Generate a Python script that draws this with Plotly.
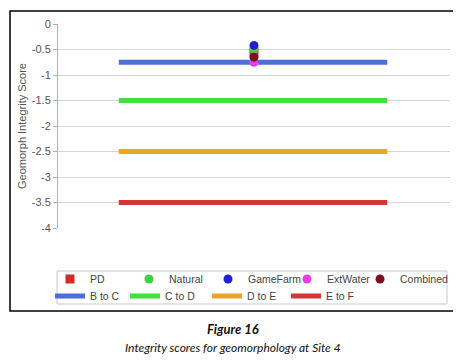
import plotly.graph_objects as go

# ---- data ----
point_names = ["PD", "Natural", "GameFarm", "ExtWater", "Combined"]
point_values = [-0.55, -0.50, -0.42, -0.75, -0.65]
point_x = 5.0
point_colors = ["#d42a2a", "#3ed13e", "#1f1fd6", "#e83ee8", "#7a1020"]
point_symbols = ["square", "circle", "circle", "circle", "circle"]

class_names = ["B to C", "C to D", "D to E", "E to F"]
class_values = [-0.75, -1.5, -2.5, -3.5]
class_x = [1.55, 8.4]
class_colors = ["#4a6fd8", "#3fe03f", "#eaa52a", "#d43535"]

y_ticks = [0, -0.5, -1, -1.5, -2, -2.5, -3, -3.5, -4]
y_tick_labels = ["0", "-0.5", "-1", "-1.5", "-2", "-2.5", "-3", "-3.5", "-4"]

# ---- layout geometry (screen pixels; page body has an 8px offset) ----
W, H = 461, 361
OFF = 8
L, R, T, B = 58, 450, 24, 228
pw, ph = R - L, B - T


def px(x):
    return (x - L) / pw


def py(y):
    return (B - y) / ph


# legend entry text positions (screen px)
row1_text_x = [90, 169, 248, 327, 400]
row2_text_x = [90, 165, 247, 326]
row1_y, row2_y = 279, 296

fig = go.Figure()
legends = {}

for i, (name, val, col) in enumerate(zip(class_names, class_values, class_colors)):
    lg = "legend%d" % (6 + i)
    legends[lg] = (row2_text_x[i], row2_y)
    fig.add_trace(go.Scatter(
        x=class_x, y=[val, val], mode="lines", name=name, legend=lg,
        line=dict(color=col, width=5), hoverinfo="skip"))

for i, (name, val, col, sym) in enumerate(zip(point_names, point_values, point_colors, point_symbols)):
    lg = "legend" if i == 0 else "legend%d" % (1 + i)
    legends[lg] = (row1_text_x[i], row1_y)
    fig.add_trace(go.Scatter(
        x=[point_x], y=[val], mode="markers", name=name, legend=lg,
        marker=dict(color=col, size=9, symbol=sym)))

layout_legends = {}
for lg, (tx, ty) in legends.items():
    layout_legends[lg] = dict(
        orientation="v", x=px(tx - 40), xanchor="left", y=py(ty), yanchor="middle",
        bgcolor="rgba(0,0,0,0)", borderwidth=0,
        font=dict(family="Liberation Sans, Arial", size=10.5, color="#444444"))

fig.update_layout(
    width=W, height=H,
    margin=dict(l=L - OFF, r=W - (R - OFF), t=T - OFF, b=H - (B - OFF), pad=0, autoexpand=False),
    paper_bgcolor="white", plot_bgcolor="white",
    font=dict(family="Liberation Sans, Arial", size=11, color="#555555"),
    showlegend=True,
    xaxis=dict(range=[0, 10], visible=False, showgrid=False, zeroline=False),
    yaxis=dict(
        range=[-4, 0], tickvals=y_ticks, ticktext=y_tick_labels,
        showgrid=True, gridcolor="#d4d4d4", gridwidth=1,
        zeroline=False, showline=True, linecolor="#b0b0b0", linewidth=1,
        ticks="outside", ticklen=4, tickcolor="#b0b0b0",
        tickfont=dict(size=11, color="#555555"),
        title=dict(text="Geomorph Integrity Score", font=dict(size=11, color="#555555"), standoff=2),
    ),
    **layout_legends,
)

# outer frame of the chart
fig.add_shape(type="rect", xref="paper", yref="paper",
              x0=px(10), x1=px(456), y0=py(311), y1=py(11),
              line=dict(color="black", width=1.5), fillcolor="rgba(0,0,0,0)", layer="below")
# legend box
fig.add_shape(type="rect", xref="paper", yref="paper",
              x0=px(57), x1=px(447), y0=py(304), y1=py(271),
              line=dict(color="#c8c8c8", width=1), fillcolor="white", layer="below")

# caption
fig.add_annotation(xref="paper", yref="paper", x=px(233), y=py(329),
                   xanchor="center", yanchor="middle",
                   text="<b><i>Figure 16</i></b>", showarrow=False,
                   font=dict(family="Lato, Open Sans", size=13, color="#111111"))
fig.add_annotation(xref="paper", yref="paper", x=px(233), y=py(347),
                   xanchor="center", yanchor="middle",
                   text="<i>Integrity scores for geomorphology at Site 4</i>", showarrow=False,
                   font=dict(family="Lato, Open Sans", size=12, color="#111111"))

fig.write_html("out.html")
